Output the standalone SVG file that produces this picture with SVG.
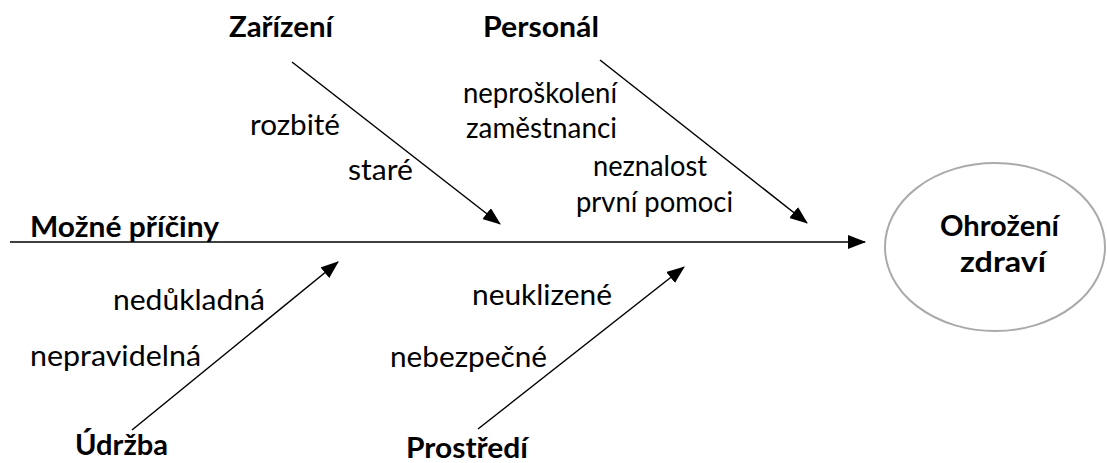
<svg xmlns="http://www.w3.org/2000/svg" width="1107" height="463" viewBox="0 0 1107 463">
<defs>
<marker id="ah" markerUnits="userSpaceOnUse" markerWidth="18" markerHeight="14" refX="17" refY="7" orient="auto">
<path d="M0,0 L18,7 L0,14 Z" fill="#000"/>
</marker>
<style>
text{font-family:Lato,"Liberation Sans",sans-serif;font-size:28px;fill:#000}
.b{font-weight:bold}
.c{stroke:#000;stroke-width:1.5;fill:none}
</style>
</defs>
<rect width="1107" height="463" fill="#fff"/>
<g id="connectors">
<line class="c" x1="10" y1="242" x2="865" y2="242" marker-end="url(#ah)"/>
<line class="c" x1="292" y1="62" x2="500" y2="224" marker-end="url(#ah)"/>
<line class="c" x1="600" y1="60" x2="807" y2="223" marker-end="url(#ah)"/>
<line class="c" x1="132" y1="430" x2="338" y2="262" marker-end="url(#ah)"/>
<line class="c" x1="478" y1="429" x2="684" y2="267" marker-end="url(#ah)"/>
</g>
<g id="spine-label"><text class="b" x="30" y="237" textLength="189" lengthAdjust="spacingAndGlyphs">Možné příčiny</text></g>
<g id="zarizeni">
<text class="b" x="229" y="37" textLength="104" lengthAdjust="spacingAndGlyphs">Zařízení</text>
<text x="250" y="135" textLength="90" lengthAdjust="spacingAndGlyphs">rozbité</text>
<text x="348" y="180" textLength="65" lengthAdjust="spacingAndGlyphs">staré</text>
</g>
<g id="personal">
<text class="b" x="483" y="37" textLength="116" lengthAdjust="spacingAndGlyphs">Personál</text>
<text x="463" y="103" textLength="154" lengthAdjust="spacingAndGlyphs">neproškolení</text>
<text x="466" y="138" textLength="151" lengthAdjust="spacingAndGlyphs">zaměstnanci</text>
<text x="593" y="176" textLength="114" lengthAdjust="spacingAndGlyphs">neznalost</text>
<text x="576" y="212" textLength="157" lengthAdjust="spacingAndGlyphs">první pomoci</text>
</g>
<g id="udrzba">
<text class="b" x="75" y="455" textLength="93" lengthAdjust="spacingAndGlyphs">Údržba</text>
<text x="113" y="310" textLength="152" lengthAdjust="spacingAndGlyphs">nedůkladná</text>
<text x="30" y="366" textLength="171" lengthAdjust="spacingAndGlyphs">nepravidelná</text>
</g>
<g id="prostredi">
<text class="b" x="406" y="458" textLength="122" lengthAdjust="spacingAndGlyphs">Prostředí</text>
<text x="472" y="305" textLength="140" lengthAdjust="spacingAndGlyphs">neuklizené</text>
<text x="390" y="367" textLength="157" lengthAdjust="spacingAndGlyphs">nebezpečné</text>
</g>
<g id="ohrozeni">
<ellipse cx="995" cy="247" rx="110" ry="84" fill="#fff" stroke="#aaa" stroke-width="2"/>
<text class="b" x="940" y="236" textLength="119" lengthAdjust="spacingAndGlyphs">Ohrožení</text>
<text class="b" x="960" y="272" textLength="86" lengthAdjust="spacingAndGlyphs">zdraví</text>
</g>
</svg>
